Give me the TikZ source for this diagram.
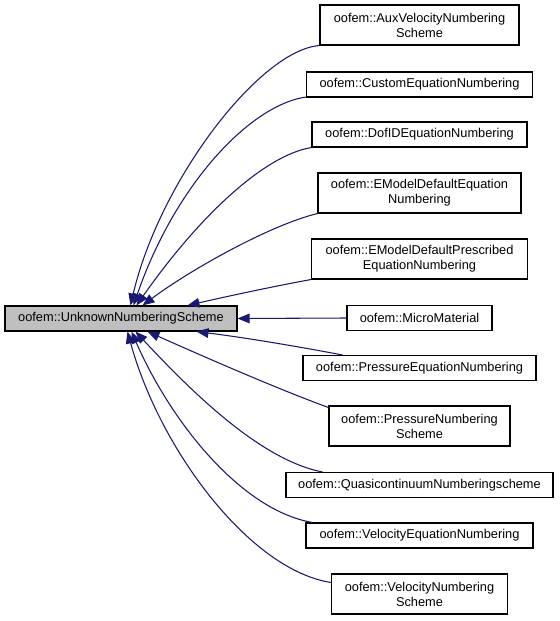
\documentclass[tikz,border=0pt]{standalone}
\usepackage{fontspec}
\setmainfont{Liberation Sans}
\usetikzlibrary{arrows.meta,calc}
\definecolor{edgeblue}{RGB}{25,25,112}
\definecolor{basegray}{RGB}{191,191,191}
\tikzset{
  cls/.style={draw=black, line width=0.8pt, rectangle, inner sep=0pt, align=center,
    font=\fontsize{9.6}{11.2}\selectfont},
  edge/.style={draw=edgeblue, line width=0.8pt, -{Triangle[length=9pt,width=7.2pt]}},
}
\begin{document}
\begin{tikzpicture}[x=0.75pt,y=-0.75pt]
\useasboundingbox (0,0) rectangle (560,621);
\node[cls, fill=basegray, minimum width=174pt, minimum height=18.75pt] (U) at (121,318.5) {oofem::UnknownNumberingScheme};

\node[cls, minimum width=149.25pt, minimum height=30pt] (aux) at (419.5,25) {oofem::AuxVelocityNumbering\\Scheme};
\node[cls, minimum width=169.5pt, minimum height=18.75pt] (cust) at (419.5,84.5) {oofem::CustomEquationNumbering};
\node[cls, minimum width=161.25pt, minimum height=18.75pt] (dof) at (419.5,134.5) {oofem::DofIDEquationNumbering};
\node[cls, minimum width=152.25pt, minimum height=30pt] (emd) at (419.5,193) {oofem::EModelDefaultEquation\\Numbering};
\node[cls, minimum width=162pt, minimum height=30pt] (emp) at (419.5,259) {oofem::EModelDefaultPrescribed\\EquationNumbering};
\node[cls, minimum width=108.75pt, minimum height=18.75pt] (micro) at (419.5,318) {oofem::MicroMaterial};
\node[cls, minimum width=174.75pt, minimum height=18.75pt] (peq) at (419.5,368) {oofem::PressureEquationNumbering};
\node[cls, minimum width=135.75pt, minimum height=30pt] (pns) at (419.5,426) {oofem::PressureNumbering\\Scheme};
\node[cls, minimum width=200.25pt, minimum height=18.75pt] (quasi) at (419.5,485) {oofem::QuasicontinuumNumberingscheme};
\node[cls, minimum width=170.25pt, minimum height=18.75pt] (veq) at (419.5,535.5) {oofem::VelocityEquationNumbering};
\node[cls, minimum width=132pt, minimum height=30pt] (vns) at (419.5,594) {oofem::VelocityNumbering\\Scheme};

\draw[edge] (aux.south west) .. controls (260,50) and (160,180) .. ($(U.north west)+(126,0)$);
\draw[edge] ($(cust.south west)+(0,-0.5)$) .. controls (250,105) and (175,185) .. ($(U.north west)+(129,0)$);
\draw[edge] (dof.south west) .. controls (265,155) and (200,215) .. ($(U.north west)+(132,0)$);
\draw[edge] (emd.south west) .. controls (270,225) and (190,270) .. ($(U.north west)+(138,0)$);
\draw[edge] (emp.south west) .. controls (270,287) and (220,298) .. ($(U.north west)+(183,0)$);
\draw[edge] (micro.west) -- (U.east);
\draw[edge] ($(peq.north west)+(40,0)$) .. controls (290,345) and (240,337) .. ($(U.south west)+(192,0)$);
\draw[edge] ($(pns.north west)+(0,2)$) .. controls (280,390) and (200,355) .. ($(U.south west)+(143,0)$);
\draw[edge] ($(quasi.north west)+(37,0)$) .. controls (260,460) and (190,390) .. ($(U.south west)+(131,0)$);
\draw[edge] ($(veq.north west)+(7,0)$) .. controls (240,510) and (170,420) .. ($(U.south west)+(127,0)$);
\draw[edge] ($(vns.north west)+(0,9)$) .. controls (250,570) and (160,450) .. ($(U.south west)+(123,0)$);
\end{tikzpicture}
\end{document}
